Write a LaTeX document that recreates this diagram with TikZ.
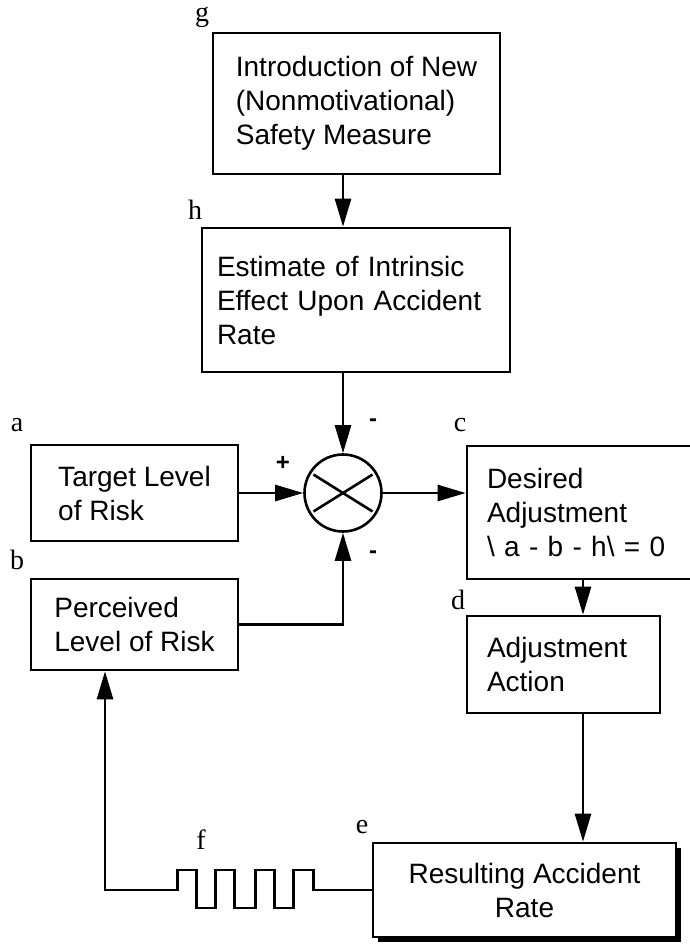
\documentclass[tikz,border=0pt]{standalone}
\usepackage{fontspec}
\setmainfont{Liberation Serif}
\setsansfont{Liberation Sans}
\usetikzlibrary{arrows.meta,shadows}

\begin{document}
\begin{tikzpicture}[x=1pt,y=-1pt,line width=2.6pt,
  font=\sffamily\fontsize{28}{34}\selectfont,
  box/.style={draw,align=left,inner sep=0pt},
  wire/.style={-{Triangle[length=28pt,width=16pt]}},
  tag/.style={font=\rmfamily\fontsize{28}{28}\selectfont},
  sign/.style={font=\sffamily\bfseries\fontsize{24}{24}\selectfont}]
  \useasboundingbox (0,0) rectangle (689,945);

  % New safety measure (top)
  \node[box,minimum width=287pt,minimum height=141pt] (g) at (356.5,103.5)
    {Introduction of New\\(Nonmotivational)\\Safety Measure};
  \node[tag] (lg) at (202,17) {g};

  % Estimate of its effect
  \node[box,text width=278pt,inner xsep=15pt,minimum height=144pt] (h) at (356,300)
    {Estimate of Intrinsic\\Effect Upon Accident\\Rate};
  \node[tag] (lh) at (195,210) {h};

  % Comparator
  \node[draw,circle,minimum size=77pt,inner sep=0pt] (sum) at (343,493) {};
  \draw[shorten <=5pt,shorten >=5pt] (sum.32) -- (sum.212);
  \draw[shorten <=5pt,shorten >=5pt] (sum.148) -- (sum.328);
  \node[sign] (plus) at (283,463) {+};
  \node[sign] (mtop) at (373,423) {-};
  \node[sign] (mbot) at (373,555) {-};

  % Target and perceived risk (left)
  \node[box,minimum width=207pt,minimum height=96pt] (a) at (134.5,493)
    {Target Level\\of Risk};
  \node[tag] (la) at (17,425) {a};
  \node[box,minimum width=207pt,minimum height=91pt] (b) at (134.5,624.5)
    {Perceived\\Level of Risk};
  \node[tag] (lb) at (17,560) {b};

  % Adjustment (right)
  \node[box,text width=184pt,inner xsep=20pt,minimum height=133pt] (c) at (579,512.5)
    {Desired\\Adjustment\\{\textbackslash} a - b - h{\textbackslash} = 0};
  \node[tag] (lc) at (460,425) {c};
  \node[box,text width=153pt,inner xsep=20pt,minimum height=97pt] (d) at (563.5,664.5)
    {Adjustment\\Action};
  \node[tag] (ld) at (458,600) {d};

  % Result (bottom)
  \node[box,align=center,fill=white,minimum width=303pt,minimum height=94pt,
    drop shadow={shadow xshift=5pt,shadow yshift=-5pt,fill=black,opacity=1}]
    (e) at (524.5,890) {Resulting Accident\\Rate};
  \node[tag] (le) at (362,827) {e};
  \node[tag] (lf) at (201,840) {f};

  % Arrows
  \coordinate (drop) at (583,0);
  \coordinate (back) at (105,0);
  \draw[wire] (g.south -| sum) -- (h.north -| sum);
  \draw[wire] (h.south -| sum) -- (sum.north);
  \draw[wire] (a.east) -- (sum.west);
  \draw[wire] (b.east) -| (sum.south);
  \draw[wire] (sum.east) -- (sum.east -| c.west);
  \draw[wire] (c.south -| drop) -- (d.north -| drop);
  \draw[wire] (d.south -| drop) -- (e.north -| drop);

  % Feedback with delay
  \draw[wire] (e.west) -- ++(-58,0) -- ++(0,-20) -- ++(-20,0) -- ++(0,38)
    -- ++(-19,0) -- ++(0,-38) -- ++(-19,0) -- ++(0,38) -- ++(-21,0)
    -- ++(0,-38) -- ++(-19,0) -- ++(0,38) -- ++(-19,0) -- ++(0,-38)
    -- ++(-19,0) -- ++(0,20) -- (back |- e.west) -- (b.south -| back);
\end{tikzpicture}
\end{document}
